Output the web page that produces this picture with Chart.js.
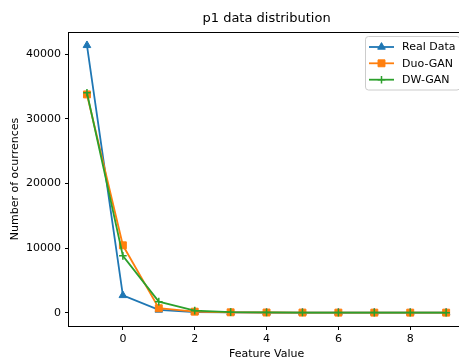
<!DOCTYPE html>
<html><head><meta charset="utf-8">
<script src="https://cdn.jsdelivr.net/npm/chart.js@4"></script>
<style>html,body{margin:0;padding:0;overflow:hidden;background:#fff;width:459px;height:360px}
#wrap{width:459px;height:360px;overflow:hidden;position:relative}
canvas{display:block;position:absolute;left:0;top:0}</style></head>
<body><div id="wrap"><canvas id="c" width="470" height="360" style="width:470px;height:360px"></canvas></div>
<script>
const featureValues = [-1, 0, 1, 2, 3, 4, 5, 6, 7, 8, 9];
const realData = [41400, 2670, 420, 100, 30, 12, 6, 3, 2, 1, 1];
const duoGan   = [33800, 10430, 680, 150, 50, 20, 10, 5, 3, 2, 2];
const dwGan    = [34070, 8800, 1700, 310, 80, 30, 15, 8, 5, 3, 2];
const xTicks = [0, 2, 4, 6, 8];
const yTicks = [0, 10000, 20000, 30000, 40000];
const seriesLabels = ['Real Data', 'Duo-GAN', 'DW-GAN'];
const titleText = 'p1 data distribution';
const xTitle = 'Feature Value';
const yTitle = 'Number of ocurrences';

const FONT = 'DejaVu Sans';
const colors = ['#1f77b4', '#ff7f0e', '#2ca02c'];
const styles = [
  {pointStyle: 'triangle', radius: 4.4, borderWidth: 1},
  {pointStyle: 'rect', radius: 4.9, borderWidth: 1},
  {pointStyle: 'cross', radius: 3.8, borderWidth: 1.5}
];
const allSeries = [realData, duoGan, dwGan];

// matplotlib-like 5% margins
const xMinD = Math.min(...featureValues), xMaxD = Math.max(...featureValues);
const yAll = allSeries.flat();
const yMinD = Math.min(...yAll), yMaxD = Math.max(...yAll);
const xPad = (xMaxD - xMinD) * 0.05, yPad = (yMaxD - yMinD) * 0.05;

const datasets = allSeries.map((arr, i) => ({
  label: seriesLabels[i],
  data: featureValues.map((x, j) => ({x: x, y: arr[j]})),
  borderColor: colors[i],
  backgroundColor: colors[i],
  borderWidth: 1.8,
  pointStyle: styles[i].pointStyle,
  pointRadius: styles[i].radius,
  pointBorderWidth: styles[i].borderWidth,
  pointBackgroundColor: colors[i],
  pointBorderColor: colors[i],
  tension: 0,
  order: 3 - i
}));

const decor = {
  id: 'decor',
  afterDatasetsDraw(chart) {
    const {ctx, chartArea: a} = chart;
    ctx.save();
    ctx.strokeStyle = '#000';
    ctx.lineWidth = 1;
    ctx.strokeRect(Math.round(a.left) - 0.5, Math.round(a.top) + 0.5, Math.round(a.right - a.left) + 1, Math.round(a.bottom - a.top));
    // title
    ctx.fillStyle = '#000';
    ctx.font = '13px "' + FONT + '"';
    ctx.textAlign = 'center';
    ctx.textBaseline = 'middle';
    ctx.fillText(titleText, (a.left + a.right) / 2, 19);
    // legend
    const bx = 365.5, by = 36.5, bw = 94.5, bh = 53.5, r = 3;
    ctx.beginPath();
    ctx.moveTo(bx + r, by);
    ctx.lineTo(bx + bw - r, by); ctx.arcTo(bx + bw, by, bx + bw, by + r, r);
    ctx.lineTo(bx + bw, by + bh - r); ctx.arcTo(bx + bw, by + bh, bx + bw - r, by + bh, r);
    ctx.lineTo(bx + r, by + bh); ctx.arcTo(bx, by + bh, bx, by + bh - r, r);
    ctx.lineTo(bx, by + r); ctx.arcTo(bx, by, bx + r, by, r);
    ctx.closePath();
    ctx.fillStyle = 'rgba(255,255,255,0.8)';
    ctx.fill();
    ctx.strokeStyle = '#cccccc';
    ctx.lineWidth = 1;
    ctx.stroke();
    const rows = [47, 63.3, 79.7];
    chart.data.datasets.forEach((ds, i) => {
      const y = rows[i];
      ctx.strokeStyle = ds.borderColor;
      ctx.lineWidth = 1.8;
      ctx.beginPath(); ctx.moveTo(369, y); ctx.lineTo(394, y); ctx.stroke();
      ctx.fillStyle = ds.backgroundColor;
      ctx.strokeStyle = ds.borderColor;
      ctx.lineWidth = ds.pointBorderWidth;
      Chart.helpers.drawPoint(ctx, {pointStyle: ds.pointStyle, radius: ds.pointRadius, rotation: 0, borderWidth: ds.pointBorderWidth}, 381.5, y);
      ctx.fillStyle = '#000';
      ctx.font = '11px "' + FONT + '"';
      ctx.textAlign = 'left';
      ctx.textBaseline = 'middle';
      ctx.fillText(ds.label, 402, y + 0.5);
    });
    ctx.restore();
  }
};

new Chart(document.getElementById('c'), {
  type: 'line',
  data: {datasets: datasets},
  options: {
    responsive: false,
    animation: false,
    devicePixelRatio: 1,
    layout: {padding: {top: 32, right: 5, left: 0, bottom: 0}},
    plugins: {legend: {display: false}, tooltip: {enabled: false}, title: {display: false}},
    scales: {
      x: {
        type: 'linear',
        min: xMinD - xPad,
        max: xMaxD + xPad,
        afterBuildTicks: s => { s.ticks = xTicks.map(v => ({value: v})); },
        afterFit: s => { s.height = 34; },
        grid: {display: true, drawOnChartArea: false, drawTicks: true, tickLength: 4, color: '#000', lineWidth: 1},
        border: {display: false},
        ticks: {color: '#000', font: {family: FONT, size: 11}, padding: 2.5, maxRotation: 0, autoSkip: false,
                callback: v => String(v)},
        title: {display: true, text: xTitle, color: '#000', font: {family: FONT, size: 11, lineHeight: 1}, padding: 0}
      },
      y: {
        type: 'linear',
        min: yMinD - yPad,
        max: yMaxD + yPad,
        afterBuildTicks: s => { s.ticks = yTicks.map(v => ({value: v})); },
        afterFit: s => { s.width = 69; },
        grid: {display: true, drawOnChartArea: false, drawTicks: true, tickLength: 4, color: '#000', lineWidth: 1},
        border: {display: false},
        ticks: {color: '#000', font: {family: FONT, size: 11}, padding: 4, autoSkip: false,
                callback: v => String(v)},
        title: {display: true, text: yTitle, color: '#000', font: {family: FONT, size: 11, lineHeight: 1}, padding: {top: 9.5, bottom: 0}}
      }
    }
  },
  plugins: [decor]
});
</script>
</body></html>
